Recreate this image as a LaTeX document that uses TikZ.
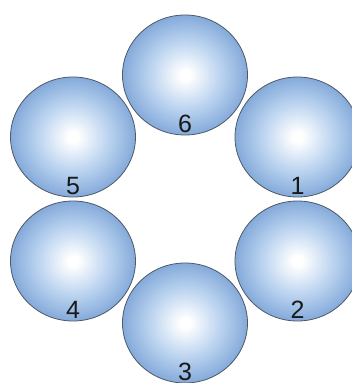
\documentclass[tikz,border=0pt]{standalone}
\usepackage{fontspec}
\setmainfont{Liberation Sans}
\usetikzlibrary{shapes.geometric}
\definecolor{balledge}{RGB}{132,170,218}
\definecolor{ballmid}{RGB}{188,212,240}
\definecolor{ballrim}{RGB}{78,88,102}
\pgfdeclareradialshading{ballshade}{\pgfpoint{0bp}{0bp}}{%
  color(0bp)=(white);
  color(2bp)=(white);
  color(14bp)=(ballmid);
  color(25bp)=(balledge);
  color(50bp)=(balledge)}
\tikzset{
  ball/.style={ellipse, draw=ballrim, line width=0.8pt, shading=ballshade,
    minimum width=125pt, minimum height=120pt, inner sep=0pt},
  num/.style={anchor=base, font=\fontsize{25}{25}\selectfont, text=black!90, inner sep=0pt}
}
\begin{document}
\begin{tikzpicture}[x=1pt,y=-1pt]
\useasboundingbox[fill=white] (0,0) rectangle (351,383);
\node[ball] (c6) at (185,75) {};
\node[ball] (c5) at (73,137) {};
\node[ball] (c1) at (297.5,137) {};
\node[ball] (c4) at (73,261) {};
\node[ball] (c2) at (297.5,261) {};
\node[ball] (c3) at (185,323) {};
\node[num] (l6) at ([yshift=3pt]c6.south) {6};
\node[num] (l5) at ([yshift=3pt]c5.south) {5};
\node[num] (l1) at ([yshift=3pt]c1.south) {1};
\node[num] (l4) at ([yshift=3pt]c4.south) {4};
\node[num] (l2) at ([yshift=3pt]c2.south) {2};
\node[num] (l3) at ([yshift=3pt]c3.south) {3};
\end{tikzpicture}
\end{document}
